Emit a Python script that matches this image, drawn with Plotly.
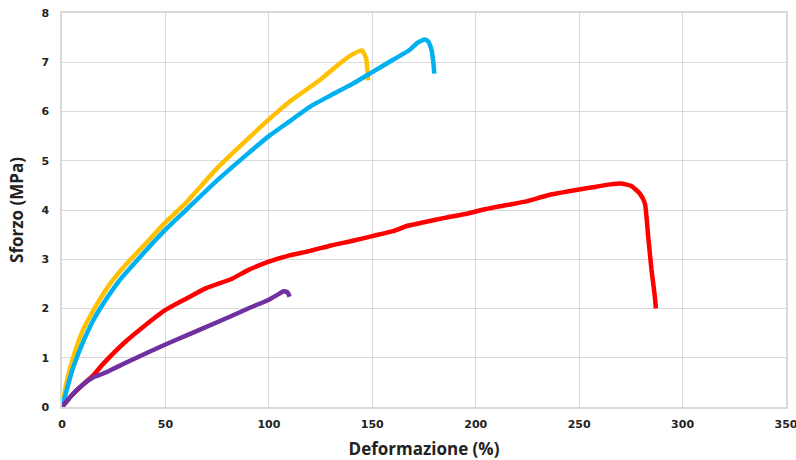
import plotly.graph_objects as go

# Yellow sample
yellow_x = [0, 2, 5, 10, 15, 20, 25, 30, 40, 50, 60, 75, 90, 100, 110, 125, 135, 140, 145, 147, 148]
yellow_y = [0, 0.45, 0.95, 1.55, 1.95, 2.3, 2.6, 2.85, 3.3, 3.75, 4.15, 4.85, 5.45, 5.84, 6.2, 6.65, 7.0, 7.15, 7.24, 7.08, 6.63]

# Blue sample
blue_x = [0, 2, 5, 10, 15, 20, 28, 40, 50, 60, 75, 90, 100, 110, 120, 130, 140, 150, 160, 168, 172, 175.4, 177, 178.7, 179.5, 180]
blue_y = [0, 0.3, 0.75, 1.3, 1.75, 2.1, 2.58, 3.15, 3.6, 4.0, 4.6, 5.15, 5.5, 5.8, 6.1, 6.33, 6.55, 6.8, 7.05, 7.25, 7.4, 7.46, 7.42, 7.24, 7.0, 6.77]

# Red sample
red_x = [0, 5, 10, 15, 20, 30, 40, 50, 60, 70, 82, 90, 100, 110, 120, 130, 140, 150, 160, 167, 175, 185, 195, 205, 215, 225, 235, 245, 255, 265, 270, 275, 279.4, 281.8, 283.4, 285, 286.6, 287.1]
red_y = [0, 0.25, 0.45, 0.64, 0.88, 1.3, 1.65, 1.97, 2.2, 2.42, 2.6, 2.78, 2.95, 3.08, 3.17, 3.28, 3.37, 3.47, 3.57, 3.68, 3.75, 3.84, 3.92, 4.02, 4.1, 4.18, 4.3, 4.38, 4.45, 4.52, 4.54, 4.49, 4.33, 4.13, 3.45, 2.78, 2.24, 2.0]

# Purple sample
purple_x = [0, 5, 10, 15, 20, 26, 35, 50, 60, 75, 90, 100, 105.4, 107, 109, 110]
purple_y = [0, 0.25, 0.45, 0.6, 0.68, 0.8, 0.98, 1.27, 1.45, 1.72, 2.0, 2.18, 2.31, 2.35, 2.33, 2.24]

x_ticks = [0, 50, 100, 150, 200, 250, 300, 350]
y_ticks = [0, 1, 2, 3, 4, 5, 6, 7, 8]

series = [
    (yellow_x, yellow_y, "#FFC000"),
    (blue_x, blue_y, "#00B0F0"),
    (red_x, red_y, "#FF0000"),
    (purple_x, purple_y, "#7030A0"),
]

fig = go.Figure()
for xs, ys, col in series:
    fig.add_trace(go.Scatter(x=xs, y=ys, mode="lines",
                             line=dict(color=col, width=4.5, shape="spline", smoothing=0.5),
                             showlegend=False, cliponaxis=False))

tick_font = dict(family="DejaVu Sans", size=11, color="#222222", weight="bold")
title_font = dict(family="Open Sans", size=17, color="#222222", weight="bold")

fig.update_layout(
    width=796, height=460,
    margin=dict(l=62, r=10, t=13, b=53, autoexpand=False),
    paper_bgcolor="white", plot_bgcolor="white",
    showlegend=False,
)
fig.update_xaxes(range=[0, 350], tickvals=x_ticks, ticktext=[str(v) for v in x_ticks],
                 showgrid=True, gridcolor="#D9D9D9", gridwidth=1,
                 showline=True, linecolor="#D9D9D9", linewidth=1.5, mirror=True,
                 zeroline=False, ticks="", tickfont=tick_font, automargin=False,
                 ticklabeloverflow="allow", ticklabelstandoff=6,
                 title=dict(text="Deformazione (%)", font=title_font, standoff=14))
fig.update_yaxes(range=[0, 8], tickvals=y_ticks, ticktext=[str(v) for v in y_ticks],
                 showgrid=True, gridcolor="#D9D9D9", gridwidth=1,
                 showline=True, linecolor="#D9D9D9", linewidth=1.5, mirror=True,
                 zeroline=False, ticks="", tickfont=tick_font, automargin=False,
                 ticklabeloverflow="allow", ticklabelstandoff=9,
                 title=dict(text="Sforzo (MPa)", font=title_font, standoff=13))

fig.write_html("out.html", config={"displayModeBar": False},
               post_script="document.body.style.margin='0';document.body.style.overflow='hidden';")
